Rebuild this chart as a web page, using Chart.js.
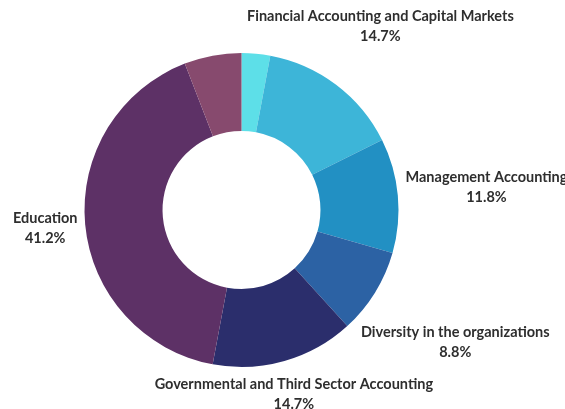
<!DOCTYPE html>
<html>
<head>
<meta charset="utf-8">
<script src="https://cdn.jsdelivr.net/npm/chart.js@4.4.0/dist/chart.umd.min.js"></script>
<style>
    html, body { margin: 0; padding: 0; background: #ffffff; }
    #wrap { width: 565px; height: 409px; }
</style>
</head>
<body>
<div id="wrap"><canvas id="chart-canvas"></canvas></div>
<script>
// Research areas and their number of papers (empty label = slice without a caption)
const categories = [
    '',
    'Financial Accounting and Capital Markets',
    'Management Accounting',
    'Diversity in the organizations',
    'Governmental and Third Sector Accounting',
    'Education',
    ''
];
const counts = [1, 5, 4, 3, 5, 14, 2];
const sliceColors = ['#5ddfe8', '#3db5d8', '#2290c3', '#2c62a4', '#2b2e6c', '#5d3166', '#874a6e'];

const labelFont = { family: 'Lato, sans-serif', size: 14.5, weight: 'bold' };
const labelLineHeight = 20;
const labelGap = 7;

// Draws "name / percent" captions outside the ring, centred on each slice's mid angle
// and pushed outward until the text box just clears the ring.
const outsideLabels = {
    id: 'outsideLabels',
    afterDatasetsDraw(chart) {
        const ctx = chart.ctx;
        const meta = chart.getDatasetMeta(0);
        const data = chart.data.datasets[0].data;
        const total = data.reduce((a, b) => a + b, 0);

        ctx.save();
        ctx.font = `${labelFont.weight} ${labelFont.size}px ${labelFont.family}`;
        ctx.fillStyle = '#2e2e2e';
        ctx.textAlign = 'center';
        ctx.textBaseline = 'middle';

        meta.data.forEach((arc, i) => {
            const name = chart.data.labels[i];
            if (!name) return;
            const p = arc.getProps(['x', 'y', 'startAngle', 'endAngle', 'outerRadius'], true);
            const mid = (p.startAngle + p.endAngle) / 2;
            const dx = Math.cos(mid);
            const dy = Math.sin(mid);
            const pct = (data[i] / total * 100).toFixed(1) + '%';

            const halfW = Math.max(ctx.measureText(name).width, ctx.measureText(pct).width) / 2;
            const halfH = labelLineHeight;
            const clear = p.outerRadius + labelGap;

            // nearest distance from ring centre to a box centred at distance d on the ray
            const nearest = (d) => {
                const bx = dx * d, by = dy * d;
                const nx = Math.max(Math.abs(bx) - halfW, 0);
                const ny = Math.max(Math.abs(by) - halfH, 0);
                return Math.hypot(nx, ny);
            };
            let lo = 0, hi = clear + halfW + halfH;
            for (let k = 0; k < 40; k++) {
                const m = (lo + hi) / 2;
                if (nearest(m) < clear) lo = m; else hi = m;
            }
            const cx = p.x + dx * hi;
            const cy = p.y + dy * hi;
            ctx.fillText(name, cx, cy - labelLineHeight / 2);
            ctx.fillText(pct, cx, cy + labelLineHeight / 2);
        });
        ctx.restore();
    }
};

const ctx = document.getElementById('chart-canvas');
new Chart(ctx, {
    type: 'doughnut',
    data: {
        labels: categories,
        datasets: [{
            data: counts,
            backgroundColor: sliceColors,
            borderWidth: 0
        }]
    },
    options: {
        responsive: true,
        maintainAspectRatio: false,
        animation: false,
        radius: 157,
        cutout: '50.3%',
        layout: { padding: { left: 0, right: 82, top: 11, bottom: 0 } },
        plugins: {
            legend: { display: false },
            tooltip: { enabled: false }
        }
    },
    plugins: [outsideLabels]
});
</script>
</body>
</html>
